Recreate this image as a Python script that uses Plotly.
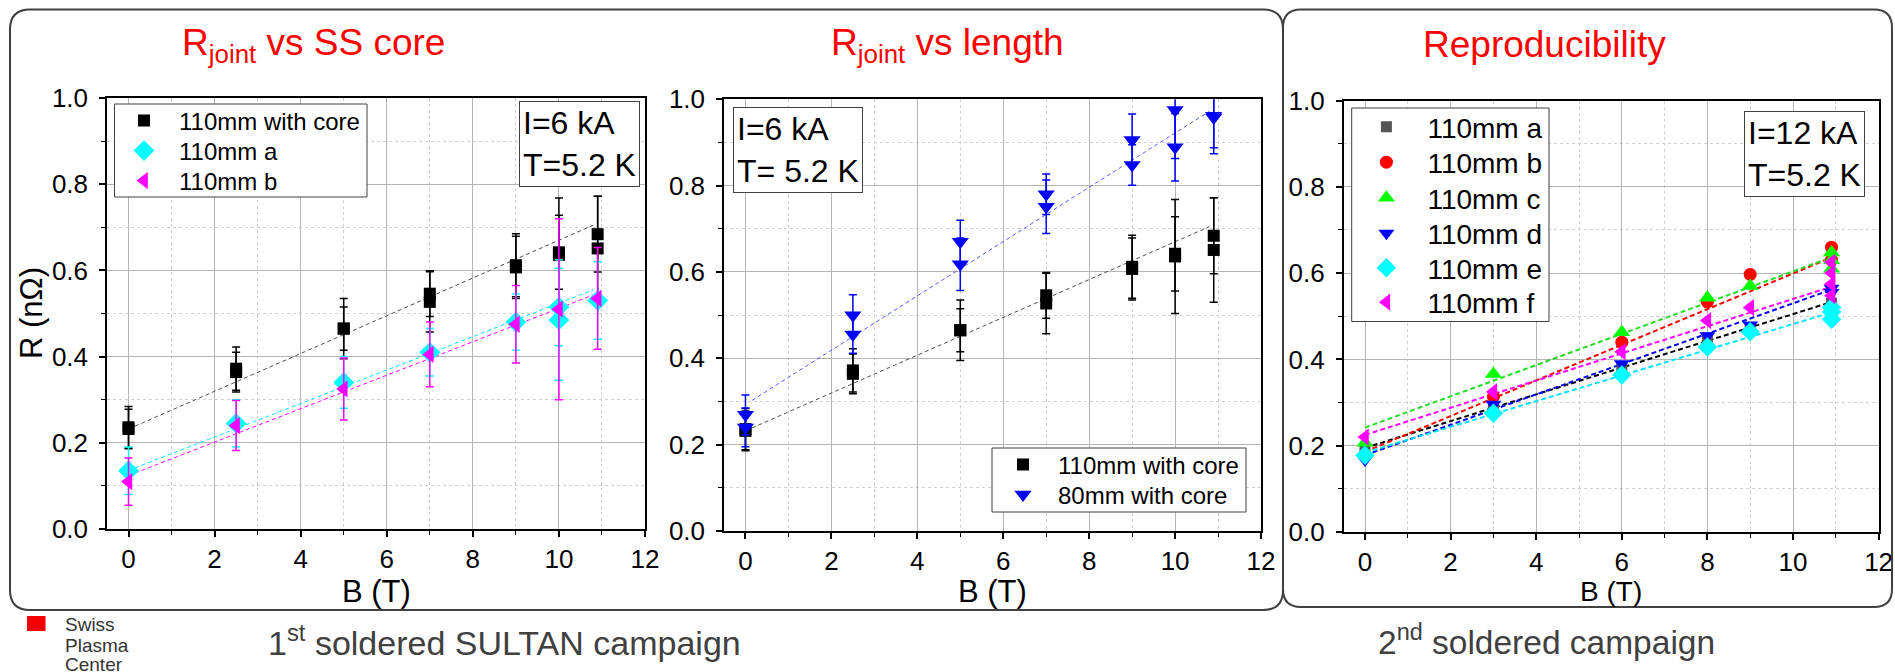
import plotly.graph_objects as go

W, H = 1895, 672
FONT = "Liberation Sans, Arial, sans-serif"

# ---------------- 1st soldered SULTAN campaign (I = 6 kA, T = 5.2 K) ----------------
# 110mm with core (shown in both left panels)
B_core = [0, 0, 2.5, 2.5, 5, 5, 7, 7, 9, 9, 10, 10, 10.9, 10.9]
R_core = [0.236, 0.232, 0.372, 0.364, 0.465, 0.465, 0.546, 0.527, 0.612, 0.607, 0.636, 0.642, 0.684, 0.651]
E_core = [0.048, 0.046, 0.050, 0.046, 0.070, 0.050, 0.053, 0.070, 0.073, 0.072, 0.132, 0.086, 0.088, 0.121]

# 110mm a
B_a1 = [0, 2.5, 5, 7, 9, 10, 10, 10.9]
R_a1 = [0.135, 0.245, 0.340, 0.410, 0.480, 0.515, 0.485, 0.530]
E_a1 = [0.055, 0.055, 0.060, 0.055, 0.065, 0.090, 0.140, 0.090]

# 110mm b
B_b1 = [0, 2.5, 5, 7, 9, 10, 10.9]
R_b1 = [0.110, 0.240, 0.325, 0.405, 0.475, 0.510, 0.535]
E_b1 = [0.055, 0.058, 0.072, 0.075, 0.090, 0.210, 0.118]

# 80mm with core
B_80 = [0, 0, 2.5, 2.5, 5, 5, 7, 7, 9, 9, 10, 10, 10.9, 10.9]
R_80 = [0.269, 0.240, 0.500, 0.455, 0.670, 0.618, 0.780, 0.751, 0.906, 0.848, 0.975, 0.889, 0.962, 0.958]
E_80 = [0.046, 0.045, 0.047, 0.043, 0.050, 0.061, 0.047, 0.062, 0.060, 0.047, 0.112, 0.078, 0.088, 0.070]

# linear fits [intercept, slope]
FIT_core = [0.232, 0.0438]
FIT_a1 = [0.136, 0.0388]
FIT_b1 = [0.124, 0.0388]
FIT_80 = [0.293, 0.0629]
FIT_RANGE_1 = [0.15, 10.8]

# ---------------- 2nd soldered campaign (I = 12 kA, T = 5.2 K) ----------------
B3_a = [0, 3, 6, 8, 9, 10.9, 10.9]
R3_a = [0.192, 0.290, 0.380, 0.450, 0.470, 0.530, 0.520]
B3_b = [0, 3, 6, 8, 9, 10.9, 10.9]
R3_b = [0.178, 0.314, 0.440, 0.533, 0.597, 0.660, 0.630]
B3_c = [0, 3, 6, 8, 9, 10.9, 10.9, 10.9]
R3_c = [0.207, 0.366, 0.463, 0.543, 0.570, 0.648, 0.630, 0.610]
B3_d = [0, 3, 6, 8, 9, 10.9, 10.9]
R3_d = [0.167, 0.296, 0.390, 0.455, 0.480, 0.565, 0.555]
B3_e = [0, 3, 6, 8, 9, 10.9, 10.9, 10.9]
R3_e = [0.178, 0.275, 0.364, 0.429, 0.464, 0.520, 0.510, 0.493]
B3_f = [0, 3, 6, 8, 9, 10.9, 10.9, 10.9, 10.9]
R3_f = [0.220, 0.325, 0.418, 0.490, 0.520, 0.625, 0.600, 0.575, 0.548]

FIT3_a = [0.195, 0.0310]
FIT3_b = [0.186, 0.0413]
FIT3_c = [0.242, 0.0362]
FIT3_d = [0.178, 0.0352]
FIT3_e = [0.184, 0.0298]
FIT3_f = [0.225, 0.0315]
FIT_RANGE_3 = [0.0, 10.9]

X_TICKS = [0, 2, 4, 6, 8, 10, 12]
Y_TICKS = [0.0, 0.2, 0.4, 0.6, 0.8, 1.0]


def px(x):
    return x / W


def py(y):
    return 1 - y / H


fig = go.Figure()
legends = {}
legend_count = [0]


def new_legend(x_left, y_mid, size, itemwidth):
    legend_count[0] += 1
    key = "legend" if legend_count[0] == 1 else f"legend{legend_count[0]}"
    legends[key] = dict(x=px(x_left), y=py(y_mid), xanchor="left", yanchor="middle",
                        bgcolor="rgba(0,0,0,0)", borderwidth=0, itemwidth=itemwidth,
                        font=dict(size=size, color="#000", family=FONT), tracegroupgap=0)
    return key


def fit_line(fit, rng, color, xa, ya, width=1, dash="4px,3px"):
    fig.add_trace(go.Scatter(
        x=rng, y=[fit[0] + fit[1] * b for b in rng], mode="lines",
        line=dict(color=color, width=width, dash=dash),
        xaxis=xa, yaxis=ya, showlegend=False, hoverinfo="skip"))


def points(x, y, err, name, color, symbol, size, xa, ya, legend):
    fig.add_trace(go.Scatter(
        x=x, y=y, mode="markers", name=name,
        marker=dict(color=color, symbol=symbol, size=size, line=dict(width=0)),
        error_y=(dict(type="data", array=err, visible=True, color=color,
                      thickness=1.5, width=4) if err is not None else None),
        xaxis=xa, yaxis=ya, legend=legend))


# Panel 1
fit_line(FIT_core, FIT_RANGE_1, "#505050", "x", "y")
fit_line(FIT_a1, FIT_RANGE_1, "#00e5ff", "x", "y")
fit_line(FIT_b1, FIT_RANGE_1, "#ff00ff", "x", "y")
points(B_core, R_core, E_core, "110mm with core", "#000000", "square", 12, "x", "y",
       new_legend(109, 121, 24, 60))
points(B_a1, R_a1, E_a1, "110mm a", "#00ffff", "diamond", 16, "x", "y",
       new_legend(109, 151, 24, 60))
points(B_b1, R_b1, E_b1, "110mm b", "#ff00ff", "triangle-left", 15, "x", "y",
       new_legend(109, 181, 24, 60))

# Panel 2
fit_line(FIT_core, FIT_RANGE_1, "#505050", "x2", "y2")
fit_line(FIT_80, FIT_RANGE_1, "#5a5aff", "x2", "y2")
points(B_core, R_core, E_core, "110mm with core", "#000000", "square", 12, "x2", "y2",
       new_legend(988, 465, 24, 60))
points(B_80, R_80, E_80, "80mm with core", "#0000ff", "triangle-down", 15, "x2", "y2",
       new_legend(988, 495, 24, 60))

# Panel 3
series3 = [
    (B3_a, R3_a, FIT3_a, "110mm a", "#555555", "#000000", "square", 11),
    (B3_b, R3_b, FIT3_b, "110mm b", "#ff0000", "#ff0000", "circle", 13),
    (B3_c, R3_c, FIT3_c, "110mm c", "#00ff00", "#22dd22", "triangle-up", 15),
    (B3_d, R3_d, FIT3_d, "110mm d", "#0000ff", "#0000ff", "triangle-down", 14),
    (B3_e, R3_e, FIT3_e, "110mm e", "#00ffff", "#00e5ff", "diamond", 15),
    (B3_f, R3_f, FIT3_f, "110mm f", "#ff00ff", "#ff00ff", "triangle-left", 15),
]
ROWS3 = [127, 162.5, 198, 233.5, 268, 302.5]
for bx, ry, ft, nm, mc, lc, sym, sz in series3:
    fit_line(ft, FIT_RANGE_3, lc, "x3", "y3", width=2, dash="5px,3px")
for (bx, ry, ft, nm, mc, lc, sym, sz), row in zip(series3, ROWS3):
    points(bx, ry, None, nm, mc, sym, sz, "x3", "y3", new_legend(1345.4, row, 28, 72))


def xaxis(domain, anchor):
    return dict(domain=domain, anchor=anchor, range=[-0.5, 12], tickvals=X_TICKS,
                ticks="outside", ticklen=6, tickwidth=1.5, tickcolor="#000",
                ticklabelstandoff=0, automargin=False,
                showline=True, linecolor="#000", linewidth=1.5, mirror=True,
                showgrid=True, gridcolor="#b4b4b4", gridwidth=1, zeroline=False,
                tickfont=dict(size=26, color="#000", family=FONT),
                minor=dict(dtick=1, tick0=0, ticks="outside", ticklen=4, tickwidth=1.2,
                           tickcolor="#000", showgrid=True, gridcolor="#d0d0d0",
                           griddash="dot", gridwidth=1))


def yaxis(domain, anchor):
    return dict(domain=domain, anchor=anchor, range=[0, 1], tickvals=Y_TICKS,
                tickformat=".1f", ticks="outside", ticklen=6, tickwidth=1.5, tickcolor="#000",
                ticklabelstandoff=6, automargin=False,
                showline=True, linecolor="#000", linewidth=1.5, mirror=True,
                showgrid=True, gridcolor="#b4b4b4", gridwidth=1, zeroline=False,
                tickfont=dict(size=26, color="#000", family=FONT),
                minor=dict(dtick=0.1, tick0=0, ticks="outside", ticklen=4, tickwidth=1.2,
                           tickcolor="#000", showgrid=True, gridcolor="#d0d0d0",
                           griddash="dot", gridwidth=1))


def rrect(x0, y0, x1, y1, r):
    pts = [
        ("M", [(x0 + r, y0)]), ("L", [(x1 - r, y0)]), ("Q", [(x1, y0), (x1, y0 + r)]),
        ("L", [(x1, y1 - r)]), ("Q", [(x1, y1), (x1 - r, y1)]), ("L", [(x0 + r, y1)]),
        ("Q", [(x0, y1), (x0, y1 - r)]), ("L", [(x0, y0 + r)]), ("Q", [(x0, y0), (x0 + r, y0)]),
    ]
    s = ""
    for cmd, cs in pts:
        s += cmd + " " + " ".join(f"{px(a):.5f},{py(b):.5f}" for a, b in cs) + " "
    return s + "Z"


annotations = []


def text(x, y, t, size, color="#000", xanchor="center", yanchor="middle", angle=0, **kw):
    annotations.append(dict(x=px(x), y=py(y), xref="paper", yref="paper", text=t,
                            showarrow=False, xanchor=xanchor, yanchor=yanchor, textangle=angle,
                            font=dict(size=size, color=color, family=FONT), **kw))


# panel titles
text(313, 45, "R<sub>joint</sub> vs SS core", 37, "#ff0000")
text(947, 45, "R<sub>joint</sub> vs length", 37, "#ff0000")
text(1544, 45, "Reproducibility", 37, "#ff0000")

# axis titles
text(376, 591, "B (T)", 31)
text(992, 591, "B (T)", 31)
text(1611, 591, "B (T)", 28)
text(31, 313, "R (nΩ)", 31, angle=-90)

# condition boxes
box = dict(bordercolor="#404040", borderwidth=1, bgcolor="#ffffff", borderpad=3, align="left")
text(640, 101, "I=6 kA<br>T=5.2 K", 32, xanchor="right", yanchor="top", **box)
text(733, 107, "I=6 kA<br>T= 5.2 K", 32, xanchor="left", yanchor="top", **box)
text(1865, 111, "I=12 kA<br>T=5.2 K", 32, xanchor="right", yanchor="top", **box)

# campaign captions
text(505, 640, "1<sup>st</sup> soldered SULTAN campaign", 34, "#404040")
text(1546, 640, "2<sup>nd</sup> soldered campaign", 33.5, "#404040")

# SPC logo text
text(63, 624, "Swiss", 19, "#333333", xanchor="left")
text(63, 645, "Plasma", 19, "#333333", xanchor="left")
text(63, 664, "Center", 19, "#333333", xanchor="left")


def legend_box(x0, y0, x1, y1):
    return dict(type="rect", xref="paper", yref="paper", layer="above",
                x0=px(x0), x1=px(x1), y0=py(y1), y1=py(y0),
                fillcolor="#ffffff", line=dict(color="#404040", width=1))


shapes = [
    dict(type="path", xref="paper", yref="paper", path=rrect(10, 9.5, 1283, 610, 20),
         line=dict(color="#404040", width=2)),
    dict(type="path", xref="paper", yref="paper", path=rrect(1283, 9.5, 1892, 607, 18),
         line=dict(color="#404040", width=2)),
    dict(type="rect", xref="paper", yref="paper", x0=px(27), x1=px(45.5), y0=py(631), y1=py(616),
         fillcolor="#f40000", line=dict(width=0)),
    legend_box(114.5, 104, 367, 197),
    legend_box(992, 448, 1246, 512),
    legend_box(1351.7, 108, 1549, 321.5),
]

fig.update_layout(
    width=W, height=H, autosize=False,
    margin=dict(l=0, r=0, t=0, b=0, autoexpand=False),
    paper_bgcolor="#ffffff", plot_bgcolor="#ffffff",
    font=dict(family=FONT, color="#000"),
    xaxis=xaxis([px(107), px(645)], "y"),
    yaxis=yaxis([py(529), py(98)], "x"),
    xaxis2=xaxis([px(724), px(1261)], "y2"),
    yaxis2=yaxis([py(531), py(99.3)], "x2"),
    xaxis3=xaxis([px(1343.6), px(1878.6)], "y3"),
    yaxis3=yaxis([py(532), py(100.5)], "x3"),
    annotations=annotations,
    shapes=shapes,
    **legends,
)

fig.write_html(
    "out.html",
    config={"displayModeBar": False},
    post_script="document.body.style.margin='0';document.body.style.overflow='hidden';",
)
